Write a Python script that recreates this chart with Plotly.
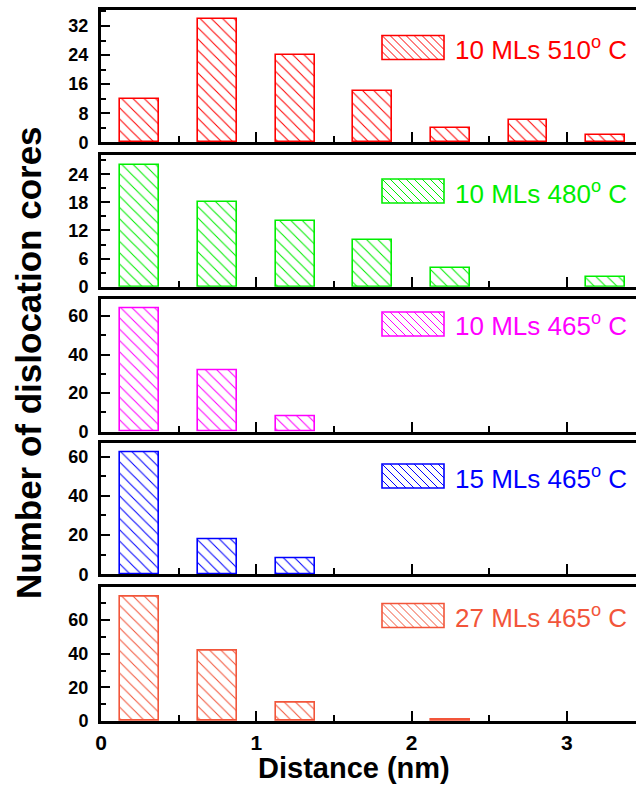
import plotly.graph_objects as go
from plotly.subplots import make_subplots

# ---------------- data ----------------
distance = [0.25, 0.75, 1.25, 1.75, 2.25, 2.75, 3.25]
cores_10ML_510 = [12, 34, 24, 14, 4, 6, 2]
cores_10ML_480 = [26, 18, 14, 10, 4, 0, 2]
cores_10ML_465 = [64, 32, 8, 0, 0, 0, 0]
cores_15ML_465 = [62, 18, 8, 0, 0, 0, 0]
cores_27ML_465 = [74, 42, 11, 0, 0.5, 0, 0]
series_labels = ["10 MLs 510", "10 MLs 480", "10 MLs 465", "15 MLs 465", "27 MLs 465"]
x_tick_labels = ["0", "1", "2", "3"]

series = [cores_10ML_510, cores_10ML_480, cores_10ML_465, cores_15ML_465, cores_27ML_465]
colors = ["#FF0000", "#00EE00", "#FF00FF", "#0000FF", "#F2553A"]
y_ranges = [36.4, 28.1, 68.6, 66.8, 79.8]
y_major = [8, 6, 20, 20, 20]
y_minor = [4, 3, 10, 10, 10]
y_maxtick = [32, 24, 60, 60, 60]

# ---------------- layout geometry (pixels) ----------------
W, H = 636, 797
ML, MR, MT, MB = 101, 0, 10, 76
PW, PH = W - ML - MR, H - MT - MB
panel_px = [(10, 142.3), (155, 286.7), (299.3, 431.7), (443.3, 574.3), (586.7, 721)]
legend_mid_px = [47.5, 191, 324, 476, 615.5]


def px_x(p):
    return (p - ML) / PW


def px_y(p):
    return 1 - (p - MT) / PH


fig = make_subplots(rows=5, cols=1, shared_xaxes=True)

for i, (vals, col) in enumerate(zip(series, colors)):
    shown = [v if v != 0 else None for v in vals]  # empty bins draw nothing
    fig.add_trace(
        go.Bar(
            x=distance, y=shown, width=0.25,
            marker=dict(
                color="white",
                line=dict(color=col, width=1.6),
                pattern=dict(shape="\\", size=8, solidity=0.13,
                             fgcolor=col, bgcolor="white", fillmode="replace"),
            ),
            showlegend=False,
        ),
        row=i + 1, col=1,
    )

axis_font = dict(family="Liberation Sans, Arial", size=18, color="black", weight="bold")

for i in range(5):
    top, bot = panel_px[i]
    yname = "yaxis" if i == 0 else f"yaxis{i + 1}"
    xname = "xaxis" if i == 0 else f"xaxis{i + 1}"
    fig.layout[yname].update(
        domain=[px_y(bot), px_y(top)],
        range=[0, y_ranges[i]],
        tickmode="array",
        tickvals=list(range(0, y_maxtick[i] + 1, y_major[i])),
        ticks="inside", ticklen=9, tickwidth=2, tickcolor="black",
        minor=dict(dtick=y_minor[i], tick0=0, ticks="inside", ticklen=5,
                   tickwidth=2, tickcolor="black"),
        showline=True, linewidth=3, linecolor="black",
        showgrid=False, zeroline=False,
        tickfont=axis_font, ticklabelstandoff=6,
    )
    fig.layout[xname].update(
        range=[0, (W - ML) / 155.3],
        tickmode="array",
        tickvals=[0, 1, 2, 3],
        ticktext=x_tick_labels,
        ticks="inside", ticklen=10, tickwidth=2, tickcolor="black",
        minor=dict(dtick=0.5, tick0=0, ticks="inside", ticklen=6,
                   tickwidth=2, tickcolor="black"),
        showline=True, linewidth=3, linecolor="black", mirror=True,
        showgrid=False, zeroline=False,
        showticklabels=(i == 4),
        tickfont=dict(family="Liberation Sans, Arial", size=21, color="black", weight="bold"),
        ticklabelstandoff=1,
    )

# ---------------- hand-drawn legends (one per panel) ----------------
shapes = []
annotations = []
SW_X0, SW_X1, SW_H = 382, 444, 24
for i, (lab, col) in enumerate(zip(series_labels, colors)):
    yc = legend_mid_px[i]
    y0, y1 = yc - SW_H / 2, yc + SW_H / 2
    segs = []
    step = 8
    c = (SW_X0 - y1)
    while c < SW_X1 - y0:
        xa = max(SW_X0, y0 + c)
        ya = xa - c
        if ya < y0:
            ya = y0
            xa = y0 + c
        xb = min(SW_X1, y1 + c)
        yb = xb - c
        if yb > y1:
            yb = y1
            xb = y1 + c
        if xb > xa:
            segs.append(f"M{px_x(xa):.5f},{px_y(ya):.5f}L{px_x(xb):.5f},{px_y(yb):.5f}")
        c += step
    shapes.append(dict(type="path", path="".join(segs), xref="paper", yref="paper",
                       line=dict(color=col, width=1)))
    shapes.append(dict(type="rect", xref="paper", yref="paper",
                       x0=px_x(SW_X0), x1=px_x(SW_X1), y0=px_y(y1), y1=px_y(y0),
                       line=dict(color=col, width=1.6), fillcolor="rgba(0,0,0,0)"))
    annotations.append(dict(
        text=f"{lab}<sup>o</sup> C", x=px_x(453), y=px_y(yc + 1),
        xref="paper", yref="paper", xanchor="left", yanchor="middle",
        showarrow=False,
        font=dict(family="Liberation Sans, Arial", size=26, color=col),
    ))

annotations.append(dict(
    text="Distance (nm)", x=px_x(354), y=px_y(768), xref="paper", yref="paper",
    xanchor="center", yanchor="middle", showarrow=False,
    font=dict(family="Liberation Sans, Arial", size=29, color="black", weight="bold"),
))
annotations.append(dict(
    text="Number of dislocation cores", x=px_x(28), y=px_y(363), xref="paper", yref="paper",
    xanchor="center", yanchor="middle", showarrow=False, textangle=-90,
    font=dict(family="Liberation Sans, Arial", size=35, color="black", weight="bold"),
))

fig.update_layout(
    width=W, height=H,
    margin=dict(l=ML, r=MR, t=MT, b=MB, autoexpand=False),
    plot_bgcolor="white", paper_bgcolor="white",
    bargap=0, showlegend=False,
    shapes=shapes, annotations=annotations,
)

fig.write_html("out.html", config={"displayModeBar": False},
               post_script="document.body.style.margin='0';document.body.style.overflow='hidden';")
